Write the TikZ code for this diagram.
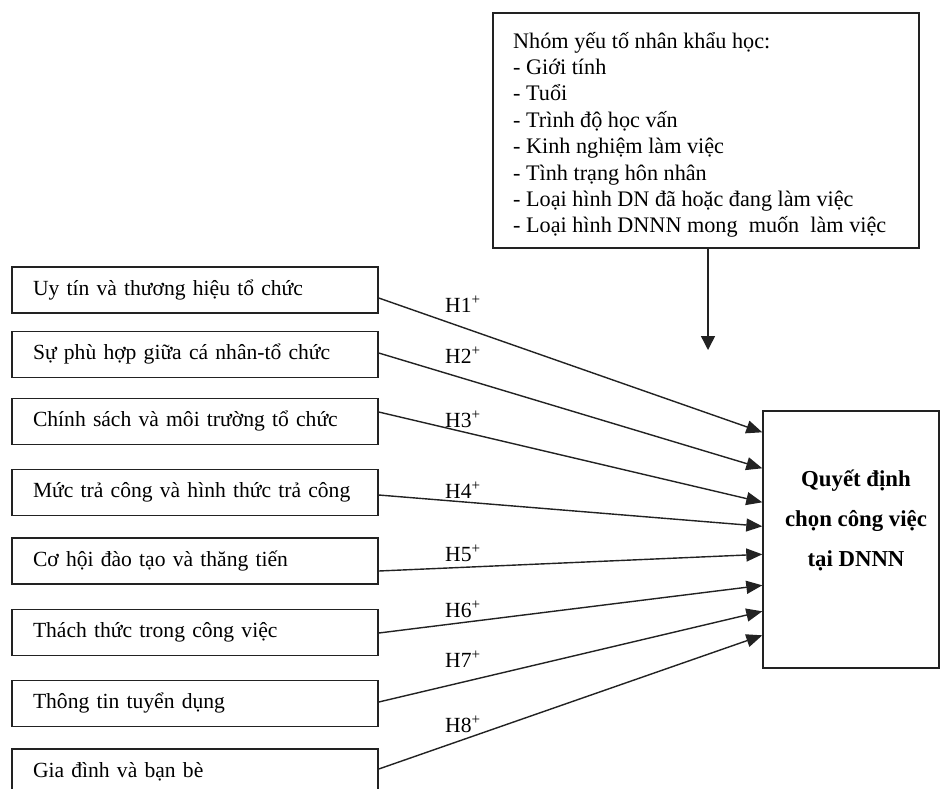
\documentclass[tikz,border=0pt]{standalone}
\usepackage{fontspec}
\setmainfont{Liberation Serif}
\usetikzlibrary{arrows.meta}
\definecolor{ink}{HTML}{222222}
\begin{document}
\begin{tikzpicture}[x=1pt,y=-1pt,
  factor/.style={draw=ink,line width=1.5pt,minimum height=46pt,text width=324pt,
    inner xsep=21pt,inner ysep=0pt,align=left,text height=14pt,text depth=4pt,
    font=\fontsize{21.6}{25}\selectfont,anchor=center},
  bigbox/.style={draw=ink,line width=1.4pt,inner sep=0pt},
  arr/.style={draw=ink,line width=1.4pt,-{Triangle[length=16pt,width=13pt]}},
  hyp/.style={anchor=base west,inner sep=0pt,font=\fontsize{21.6}{25}\selectfont}]
\useasboundingbox (0,0) rectangle (941,788);
\clip (0,0) rectangle (941,788);
\fill[white] (0,0) rectangle (941,788);
% top box
\node[bigbox,minimum width=426pt,minimum height=235pt] (demo) at (706,130.5) {};
\node[anchor=base west,inner sep=0pt] (demotxt) at (513,48)
  {\fontsize{22.2}{26.4}\selectfont\begin{tabular}[t]{@{}l@{}}
  Nhóm yếu tố nhân khẩu học:\\
  - Giới tính\\
  - Tuổi\\
  - Trình độ học vấn\\
  - Kinh nghiệm làm việc\\
  - Tình trạng hôn nhân\\
  - Loại hình DN đã hoặc đang làm việc\\
  - Loại hình DNNN mong\ \ muốn\ \ làm việc
  \end{tabular}};
% right box
\node[bigbox,minimum width=176pt,minimum height=257pt] (q) at (851,539.5) {};
\node[anchor=base,inner sep=0pt] (qtxt) at (856,486)
  {\fontsize{22.8}{40}\selectfont\bfseries\begin{tabular}[t]{@{}c@{}}
  Quyết định\\ chọn công việc\\ tại DNNN\end{tabular}};
% factor boxes
\node[factor] (b1) at (195,290) {Uy tín và thương hiệu tổ chức};
\node[factor] (b2) at (195,354.5) {Sự phù hợp giữa cá nhân-tổ chức};
\node[factor] (b3) at (195,421.5) {Chính sách và môi trường tổ chức};
\node[factor] (b4) at (195,492.5) {Mức trả công và hình thức trả công};
\node[factor] (b5) at (195,561) {Cơ hội đào tạo và thăng tiến};
\node[factor] (b6) at (195,632.5) {Thách thức trong công việc};
\node[factor] (b7) at (195,703.5) {Thông tin tuyển dụng};
\node[factor] (b8) at (195,772) {Gia đình và bạn bè};
% arrows
\draw[arr] ([yshift=-8pt]b1.east) -- ([yshift=-22pt]q.north west);
\draw[arr] ([yshift=1.5pt]b2.east) -- ([yshift=-58pt]q.north west);
\draw[arr] ([yshift=9.5pt]b3.east) -- ([yshift=-92pt]q.north west);
\draw[arr] ([yshift=-2.5pt]b4.east) -- ([yshift=-116pt]q.north west);
\draw[arr] ([yshift=-10pt]b5.east) -- ([yshift=-144pt]q.north west);
\draw[arr] ([yshift=-0.5pt]b6.east) -- ([yshift=-175pt]q.north west);
\draw[arr] ([yshift=1.5pt]b7.east) -- ([yshift=-201pt]q.north west);
\draw[arr] ([yshift=3pt]b8.east) -- ([yshift=-225pt]q.north west);
\coordinate (mtip) at (708,350);
\draw[draw=ink,line width=1.4pt,-{Triangle[length=14pt,width=14pt]}] ([xshift=2pt]demo.south) -- (mtip);
% hypothesis labels
\node[hyp] (h1) at (445,312) {H1\textsuperscript{+}};
\node[hyp] (h2) at (445,363) {H2\textsuperscript{+}};
\node[hyp] (h3) at (445,427) {H3\textsuperscript{+}};
\node[hyp] (h4) at (445,498) {H4\textsuperscript{+}};
\node[hyp] (h5) at (445,561) {H5\textsuperscript{+}};
\node[hyp] (h6) at (445,617) {H6\textsuperscript{+}};
\node[hyp] (h7) at (445,667) {H7\textsuperscript{+}};
\node[hyp] (h8) at (445,732) {H8\textsuperscript{+}};
\end{tikzpicture}
\end{document}
